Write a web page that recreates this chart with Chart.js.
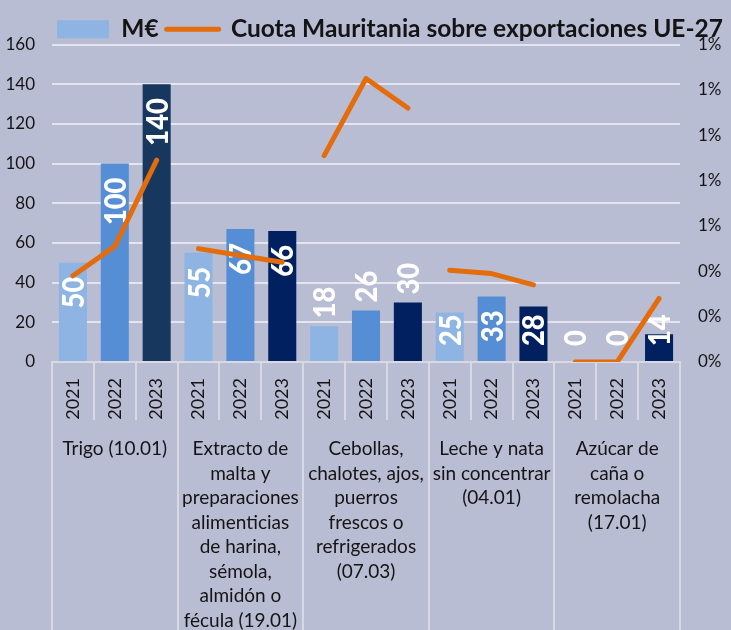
<!DOCTYPE html>
<html>
<head>
<meta charset="utf-8">
<script src="https://cdn.jsdelivr.net/npm/chart.js@4.4.1/dist/chart.umd.min.js"></script>
<style>
  html, body { margin: 0; padding: 0; background: #b9bdd3; }
  #wrap { width: 731px; height: 630px; }
</style>
</head>
<body>
<div id="wrap"><canvas id="ctx"></canvas></div>
<script>
// data
const years = ['2021', '2022', '2023', '2021', '2022', '2023', '2021', '2022', '2023',
               '2021', '2022', '2023', '2021', '2022', '2023'];
const groups = [
  ['Trigo (10.01)'],
  ['Extracto de', 'malta y', 'preparaciones', 'alimenticias', 'de harina,', 'sémola,', 'almidón o', 'fécula (19.01)'],
  ['Cebollas,', 'chalotes, ajos,', 'puerros', 'frescos o', 'refrigerados', '(07.03)'],
  ['Leche y nata', 'sin concentrar', '(04.01)'],
  ['Azúcar de', 'caña o', 'remolacha', '(17.01)']
];
const exportsMEUR = [50, 100, 140, 55, 67, 66, 18, 26, 30, 25, 33, 28, 0, 0, 14];
const shareEU27 = [0.38, 0.51, 0.89, 0.50, 0.47, 0.44, 0.91, 1.25, 1.12, 0.405, 0.39, 0.34, 0, 0, 0.28]; // %

const barName = 'M€';
const lineName = 'Cuota Mauritania sobre exportaciones UE-27';

// styles
const yearColors = ['#8db4e2', '#558ed5', '#002060'];
const orange = '#e46c0a';
const gridCol = '#e4e5ee';
const sepCol = '#d8d9e2';
const textCol = '#141414';
const FONT = 'Lato, "Noto Sans", sans-serif';

const barColors = exportsMEUR.map((v, i) => (i === 2 ? '#17375e' : yearColors[i % 3]));

// white value labels, rotated, drawn right after the bars (line goes on top)
const barLabels = {
  id: 'barLabels',
  afterDatasetDraw(chart, args) {
    if (args.index !== 0) return;
    const ctx = chart.ctx;
    const base = chart.scales.y.getPixelForValue(0);
    const sx = 0.88;
    ctx.save();
    ctx.font = '900 31px ' + FONT;
    ctx.fillStyle = '#ffffff';
    ctx.textBaseline = 'middle';
    ctx.textAlign = 'left';
    args.meta.data.forEach((bar, i) => {
      const txt = String(exportsMEUR[i]);
      const w = ctx.measureText(txt).width * sx;
      let top;
      if (Math.floor(i / 3) === 2) {
        top = bar.y - 8 - w;          // outside end
      } else {
        top = bar.y + 14;             // inside end
        if (top + w > base - 16) top = base - 16 - w;
      }
      ctx.save();
      ctx.translate(bar.x + 1, top + w);
      ctx.rotate(-Math.PI / 2);
      ctx.scale(sx, 1);
      ctx.fillText(txt, 0, 0);
      ctx.restore();
    });
    ctx.restore();
  }
};

// legend a bit shorter so it sits lower without pushing the plot down
const legendTrim = {
  id: 'legendTrim',
  beforeUpdate(chart) {
    const lg = chart.legend;
    if (!lg || lg._trimmed) return;
    const fit = lg.fit;
    lg.fit = function () { fit.call(this); this.height -= 7; };
    lg._trimmed = true;
  }
};

const bg = {
  id: 'bg',
  beforeDraw(chart) {
    const c = chart.ctx;
    c.save();
    c.fillStyle = '#b9bdd3';
    c.fillRect(0, 0, chart.width, chart.height);
    c.restore();
  }
};

new Chart(document.getElementById('ctx'), {
  type: 'bar',
  data: {
    labels: years,
    datasets: [{
      label: barName,
      data: exportsMEUR,
      backgroundColor: barColors,
      barPercentage: 0.67,
      categoryPercentage: 1,
      yAxisID: 'y',
      order: 1
    }, {
      type: 'line',
      label: lineName,
      data: shareEU27,
      borderColor: orange,
      borderWidth: 5,
      borderCapStyle: 'round',
      borderJoinStyle: 'round',
      pointRadius: 0,
      tension: 0,
      yAxisID: 'y2',
      order: 0,
      segment: {
        borderColor: s => (s.p0DataIndex % 3 === 2 ? 'rgba(0,0,0,0)' : orange)
      }
    }]
  },
  options: {
    responsive: true,
    maintainAspectRatio: false,
    animation: false,
    layout: { padding: { top: 9, left: 0, right: 0, bottom: 0 } },
    plugins: {
      tooltip: { enabled: false },
      legend: {
        position: 'top',
        align: 'end',
        labels: {
          usePointStyle: true,
          pointStyleWidth: 52,
          boxHeight: 18,
          padding: 8,
          color: textCol,
          font: { family: FONT, size: 24.5, weight: 'bold' },
          generateLabels: () => [
            { text: barName, fillStyle: yearColors[0], strokeStyle: yearColors[0], lineWidth: 0,
              pointStyle: 'rect', datasetIndex: 0, fontColor: textCol },
            { text: lineName, fillStyle: orange, strokeStyle: orange, lineWidth: 5, lineCap: 'round',
              pointStyle: 'line', datasetIndex: 1, fontColor: textCol }
          ]
        }
      }
    },
    scales: {
      x: {
        type: 'category',
        position: 'bottom',
        weight: 0,
        offset: true,
        grid: { offset: true, drawOnChartArea: false, tickLength: 58, color: sepCol, lineWidth: 2 },
        border: { display: true, color: sepCol, width: 2 },
        ticks: {
          minRotation: 90, maxRotation: 90, padding: -42, autoSkip: false,
          color: textCol, font: { family: FONT, size: 18 }
        },
        afterFit: s => { s.height = 58; }
      },
      x2: {
        type: 'category',
        position: 'bottom',
        weight: 1,
        labels: groups,
        offset: true,
        grid: { offset: true, drawOnChartArea: false, tickLength: 210, color: sepCol, lineWidth: 2 },
        border: { display: false },
        ticks: {
          maxRotation: 0, minRotation: 0, padding: -193, autoSkip: false,
          color: textCol, font: { family: FONT, size: 19, lineHeight: 1.29 }
        },
        afterFit: s => { s.height = 210; }
      },
      y: {
        position: 'left',
        min: 0, max: 160,
        ticks: { stepSize: 20, padding: 17, color: textCol, font: { family: FONT, size: 17 } },
        grid: { color: gridCol, lineWidth: 2, drawTicks: false },
        border: { display: false },
        afterFit: s => { s.width = 52; }
      },
      y2: {
        position: 'right',
        min: 0, max: 1.4,
        ticks: {
          stepSize: 0.2, padding: 18, color: textCol, font: { family: FONT, size: 17 },
          callback: v => Math.round(v) + '%'
        },
        grid: { display: false, drawTicks: false },
        border: { display: false },
        afterFit: s => { s.width = 51; }
      }
    }
  },
  plugins: [bg, legendTrim, barLabels]
});
</script>
</body>
</html>
